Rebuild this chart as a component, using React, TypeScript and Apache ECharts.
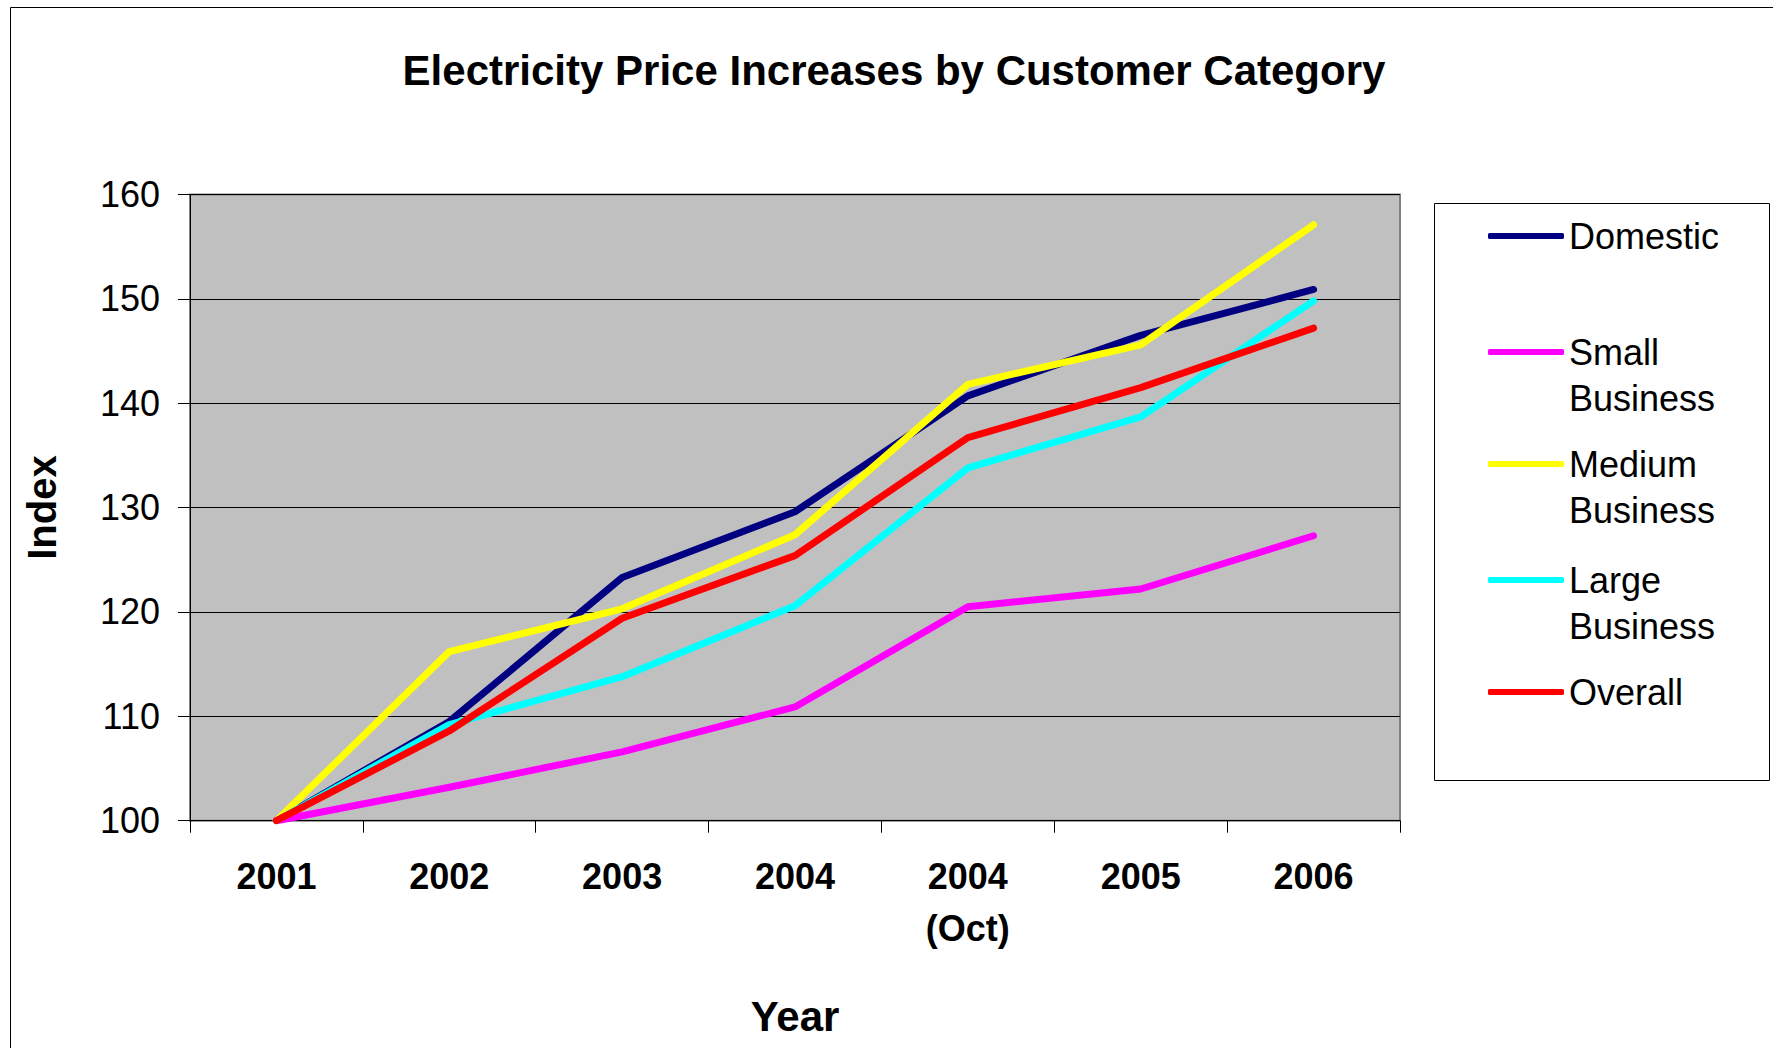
import React, { useEffect, useRef } from "react";
import * as echarts from "echarts";

const categories = ["2001", "2002", "2003", "2004", "2004\n(Oct)", "2005", "2006"];
const seriesNames = ["Domestic", "Small Business", "Medium Business", "Large Business", "Overall"];
const seriesColors = ["#000080", "#FF00FF", "#FFFF00", "#00FFFF", "#FF0000"];
const domestic = [100, 109.5, 123.3, 129.6, 140.7, 146.5, 150.9];
const smallBusiness = [100, 103.2, 106.6, 110.9, 120.5, 122.2, 127.3];
const mediumBusiness = [100, 116.2, 120.3, 127.4, 141.8, 145.6, 157.1];
const largeBusiness = [100, 109.2, 113.8, 120.6, 133.8, 138.7, 149.8];
const overall = [100, 108.6, 119.4, 125.4, 136.7, 141.5, 147.2];
const seriesValues = [domestic, smallBusiness, mediumBusiness, largeBusiness, overall];
const legendLines = [["Domestic"], ["Small", "Business"], ["Medium", "Business"], ["Large", "Business"], ["Overall"]];
const legendCenters = [236, 352, 464, 580, 692];

const FONT = "'Liberation Sans', Arial, sans-serif";

export default function App() {
  const ref = useRef<HTMLDivElement>(null);
  useEffect(() => {
    if (!ref.current) return;
    const chart = echarts.init(ref.current, null, { renderer: "svg" });
    const LH = 46;
    const legends = seriesNames.map((name, i) => {
      const lines = legendLines[i];
      const two = lines.length > 1;
      return {
        show: true,
        orient: "vertical",
        left: 1488,
        top: two ? legendCenters[i] - (LH * 3) / 2 : legendCenters[i] - LH / 2,
        padding: 0,
        itemWidth: 76,
        itemHeight: 6,
        icon: "roundRect",
        data: [name],
        formatter: () => (two ? "\n" + lines.join("\n") : lines[0]),
        textStyle: {
          fontFamily: FONT,
          fontSize: 36,
          color: "#000",
          lineHeight: LH,
          backgroundColor: "rgba(0,0,0,0)",
        },
      };
    });
    const option: any = {
      animation: false,
      backgroundColor: "#ffffff",
      title: {
        text: "Electricity Price Increases by Customer Category",
        left: 894,
        textAlign: "center",
        top: 49,
        padding: 0,
        textStyle: { fontFamily: FONT, fontSize: 42, fontWeight: "bold", color: "#000", lineHeight: 42 },
      },
      graphic: [
        {
          type: "rect",
          shape: { x: 10.5, y: 7.5, width: 1800, height: 1100 },
          style: { fill: "none", stroke: "#000", lineWidth: 1 },
          silent: true,
        },
        {
          type: "rect",
          shape: { x: 1434.5, y: 203.5, width: 335, height: 577 },
          style: { fill: "#fff", stroke: "#000", lineWidth: 1 },
          silent: true,
          z: -1,
        },
      ],
      legend: legends,
      grid: {
        left: 190,
        right: 373,
        top: 194.5,
        bottom: 227.3,
        show: true,
        backgroundColor: "#C0C0C0",
        borderColor: "#808080",
        borderWidth: 2,
      },
      xAxis: {
        type: "category",
        data: categories,
        boundaryGap: true,
        name: "Year",
        nameLocation: "middle",
        nameGap: 175,
        nameTextStyle: { fontFamily: FONT, fontSize: 42, fontWeight: "bold", color: "#000", lineHeight: 42 },
        axisLine: { show: true, lineStyle: { color: "#000", width: 1 } },
        axisTick: { show: true, length: 12, inside: false, alignWithLabel: false, lineStyle: { color: "#000" } },
        axisLabel: {
          fontFamily: FONT,
          fontSize: 36,
          fontWeight: "bold",
          color: "#000",
          lineHeight: 52,
          margin: 30,
          interval: 0,
        },
        splitLine: { show: false },
      },
      yAxis: {
        type: "value",
        min: 100,
        max: 160,
        interval: 10,
        name: "Index",
        nameLocation: "middle",
        nameGap: 128,
        nameTextStyle: { fontFamily: FONT, fontSize: 40, fontWeight: "bold", color: "#000", lineHeight: 40 },
        axisLine: { show: true, lineStyle: { color: "#000", width: 1 } },
        axisTick: { show: true, length: 12, inside: false, lineStyle: { color: "#000" } },
        axisLabel: { fontFamily: FONT, fontSize: 36, color: "#000", margin: 30 },
        splitLine: { show: true, lineStyle: { color: "#000", width: 1 } },
      },
      series: seriesNames.map((name, i) => ({
        name,
        type: "line",
        data: seriesValues[i],
        symbol: "none",
        showSymbol: false,
        color: seriesColors[i],
        itemStyle: { color: seriesColors[i] },
        lineStyle: { color: seriesColors[i], width: 7, cap: "round", join: "round" },
      })),
    };
    chart.setOption(option);
    return () => chart.dispose();
  }, []);
  return (
    <div
      ref={ref}
      style={{ position: "absolute", left: 0, top: 0, width: 1773, height: 1048 }}
    />
  );
}
